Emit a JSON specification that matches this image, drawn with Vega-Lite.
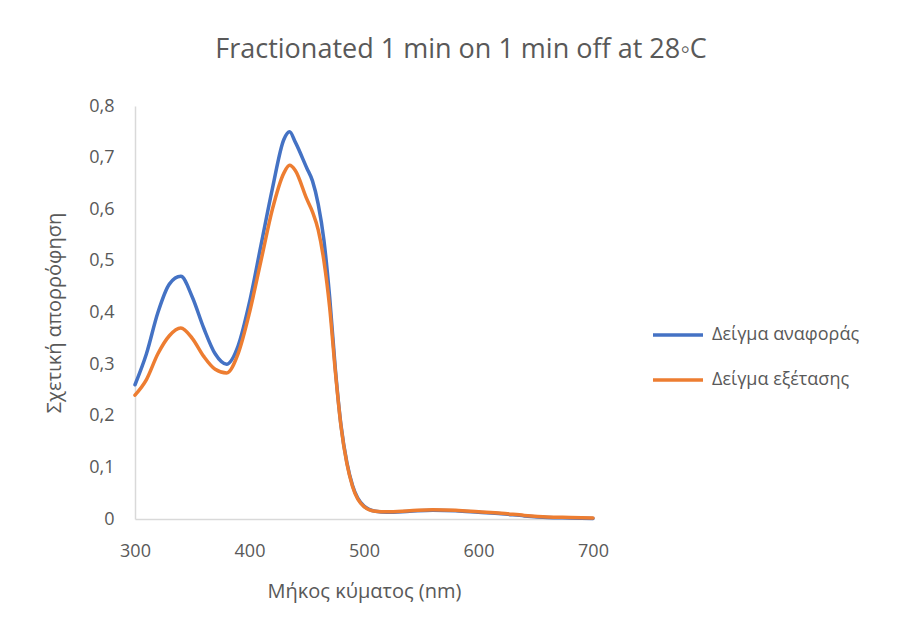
{
  "$schema": "https://vega.github.io/schema/vega-lite/v6.json",
  "autosize": {"type": "none"},
  "padding": {"left": 135, "top": 106, "right": 306, "bottom": 114},
  "width": 458,
  "height": 413,
  "background": "white",
  "title": {
    "text": "Fractionated 1 min on 1 min off at 28◦C",
    "font": "Open Sans",
    "fontSize": 27,
    "fontWeight": "normal",
    "color": "#595959",
    "anchor": "middle",
    "dx": 97,
    "offset": 33
  },
  "data": {
    "values": [
      {"wl": 300, "s": "Δείγμα αναφοράς", "a": 0.26},
      {"wl": 310, "s": "Δείγμα αναφοράς", "a": 0.32},
      {"wl": 320, "s": "Δείγμα αναφοράς", "a": 0.40},
      {"wl": 330, "s": "Δείγμα αναφοράς", "a": 0.455},
      {"wl": 340, "s": "Δείγμα αναφοράς", "a": 0.47},
      {"wl": 350, "s": "Δείγμα αναφοράς", "a": 0.43},
      {"wl": 360, "s": "Δείγμα αναφοράς", "a": 0.37},
      {"wl": 370, "s": "Δείγμα αναφοράς", "a": 0.32},
      {"wl": 380, "s": "Δείγμα αναφοράς", "a": 0.30},
      {"wl": 390, "s": "Δείγμα αναφοράς", "a": 0.335},
      {"wl": 400, "s": "Δείγμα αναφοράς", "a": 0.42},
      {"wl": 410, "s": "Δείγμα αναφοράς", "a": 0.53},
      {"wl": 420, "s": "Δείγμα αναφοράς", "a": 0.64},
      {"wl": 430, "s": "Δείγμα αναφοράς", "a": 0.735},
      {"wl": 435, "s": "Δείγμα αναφοράς", "a": 0.75},
      {"wl": 440, "s": "Δείγμα αναφοράς", "a": 0.73},
      {"wl": 450, "s": "Δείγμα αναφοράς", "a": 0.68},
      {"wl": 455, "s": "Δείγμα αναφοράς", "a": 0.655},
      {"wl": 460, "s": "Δείγμα αναφοράς", "a": 0.61},
      {"wl": 465, "s": "Δείγμα αναφοράς", "a": 0.54},
      {"wl": 470, "s": "Δείγμα αναφοράς", "a": 0.43},
      {"wl": 475, "s": "Δείγμα αναφοράς", "a": 0.29},
      {"wl": 480, "s": "Δείγμα αναφοράς", "a": 0.18},
      {"wl": 485, "s": "Δείγμα αναφοράς", "a": 0.11},
      {"wl": 490, "s": "Δείγμα αναφοράς", "a": 0.065},
      {"wl": 500, "s": "Δείγμα αναφοράς", "a": 0.025},
      {"wl": 510, "s": "Δείγμα αναφοράς", "a": 0.015},
      {"wl": 520, "s": "Δείγμα αναφοράς", "a": 0.013},
      {"wl": 540, "s": "Δείγμα αναφοράς", "a": 0.015},
      {"wl": 560, "s": "Δείγμα αναφοράς", "a": 0.017},
      {"wl": 580, "s": "Δείγμα αναφοράς", "a": 0.016},
      {"wl": 600, "s": "Δείγμα αναφοράς", "a": 0.013},
      {"wl": 620, "s": "Δείγμα αναφοράς", "a": 0.01},
      {"wl": 640, "s": "Δείγμα αναφοράς", "a": 0.006},
      {"wl": 660, "s": "Δείγμα αναφοράς", "a": 0.003},
      {"wl": 680, "s": "Δείγμα αναφοράς", "a": 0.002},
      {"wl": 700, "s": "Δείγμα αναφοράς", "a": 0.001},
      {"wl": 300, "s": "Δείγμα εξέτασης", "a": 0.24},
      {"wl": 310, "s": "Δείγμα εξέτασης", "a": 0.27},
      {"wl": 320, "s": "Δείγμα εξέτασης", "a": 0.32},
      {"wl": 330, "s": "Δείγμα εξέτασης", "a": 0.355},
      {"wl": 340, "s": "Δείγμα εξέτασης", "a": 0.37},
      {"wl": 350, "s": "Δείγμα εξέτασης", "a": 0.35},
      {"wl": 360, "s": "Δείγμα εξέτασης", "a": 0.315},
      {"wl": 370, "s": "Δείγμα εξέτασης", "a": 0.29},
      {"wl": 380, "s": "Δείγμα εξέτασης", "a": 0.283},
      {"wl": 390, "s": "Δείγμα εξέτασης", "a": 0.32},
      {"wl": 400, "s": "Δείγμα εξέτασης", "a": 0.40},
      {"wl": 410, "s": "Δείγμα εξέτασης", "a": 0.50},
      {"wl": 420, "s": "Δείγμα εξέτασης", "a": 0.60},
      {"wl": 430, "s": "Δείγμα εξέτασης", "a": 0.67},
      {"wl": 435, "s": "Δείγμα εξέτασης", "a": 0.685},
      {"wl": 440, "s": "Δείγμα εξέτασης", "a": 0.675},
      {"wl": 450, "s": "Δείγμα εξέτασης", "a": 0.62},
      {"wl": 455, "s": "Δείγμα εξέτασης", "a": 0.595},
      {"wl": 460, "s": "Δείγμα εξέτασης", "a": 0.56},
      {"wl": 465, "s": "Δείγμα εξέτασης", "a": 0.50},
      {"wl": 470, "s": "Δείγμα εξέτασης", "a": 0.41},
      {"wl": 475, "s": "Δείγμα εξέτασης", "a": 0.285},
      {"wl": 480, "s": "Δείγμα εξέτασης", "a": 0.178},
      {"wl": 485, "s": "Δείγμα εξέτασης", "a": 0.108},
      {"wl": 490, "s": "Δείγμα εξέτασης", "a": 0.063},
      {"wl": 500, "s": "Δείγμα εξέτασης", "a": 0.024},
      {"wl": 510, "s": "Δείγμα εξέτασης", "a": 0.015},
      {"wl": 520, "s": "Δείγμα εξέτασης", "a": 0.014},
      {"wl": 540, "s": "Δείγμα εξέτασης", "a": 0.016},
      {"wl": 560, "s": "Δείγμα εξέτασης", "a": 0.018},
      {"wl": 580, "s": "Δείγμα εξέτασης", "a": 0.017},
      {"wl": 600, "s": "Δείγμα εξέτασης", "a": 0.014},
      {"wl": 620, "s": "Δείγμα εξέτασης", "a": 0.011},
      {"wl": 640, "s": "Δείγμα εξέτασης", "a": 0.007},
      {"wl": 660, "s": "Δείγμα εξέτασης", "a": 0.004},
      {"wl": 680, "s": "Δείγμα εξέτασης", "a": 0.003},
      {"wl": 700, "s": "Δείγμα εξέτασης", "a": 0.002}
    ]
  },
  "mark": {"type": "line", "interpolate": "monotone", "strokeWidth": 3.5, "strokeCap": "round", "strokeJoin": "round"},
  "encoding": {
    "x": {
      "field": "wl", "type": "quantitative",
      "scale": {"domain": [300, 700], "nice": false, "zero": false},
      "axis": {
        "title": "Μήκος κύματος (nm)",
        "values": [300, 400, 500, 600, 700],
        "grid": false, "ticks": false, "labelFlush": false,
        "domainColor": "#d9d9d9", "domainWidth": 1.5,
        "labelPadding": 23, "titlePadding": 21
      }
    },
    "y": {
      "field": "a", "type": "quantitative",
      "scale": {"domain": [0, 0.8], "nice": false},
      "axis": {
        "title": "Σχετική απορρόφηση",
        "values": [0, 0.1, 0.2, 0.3, 0.4, 0.5, 0.6, 0.7, 0.8],
        "labelExpr": "replace(format(datum.value, '.1~f'), '.', ',')",
        "grid": false, "ticks": false, "labelFlush": false,
        "domainColor": "#d9d9d9", "domainWidth": 1.5,
        "labelPadding": 21, "titlePadding": 24
      }
    },
    "color": {
      "field": "s", "type": "nominal",
      "scale": {"domain": ["Δείγμα αναφοράς", "Δείγμα εξέτασης"], "range": ["#4472c4", "#ed7d31"]},
      "legend": {
        "title": null,
        "orient": "none",
        "legendX": 516,
        "legendY": 202,
        "symbolType": "stroke",
        "symbolSize": 2500,
        "symbolStrokeWidth": 3.5,
        "labelFontSize": 18,
        "labelFont": "Open Sans",
        "labelColor": "#595959",
        "rowPadding": 9,
        "labelOffset": 7
      }
    }
  },
  "config": {
    "view": {"stroke": null},
    "axis": {
      "labelFont": "Open Sans", "titleFont": "Open Sans",
      "labelFontSize": 18, "titleFontSize": 20,
      "labelColor": "#595959", "titleColor": "#595959",
      "titleFontWeight": "normal"
    }
  }
}
